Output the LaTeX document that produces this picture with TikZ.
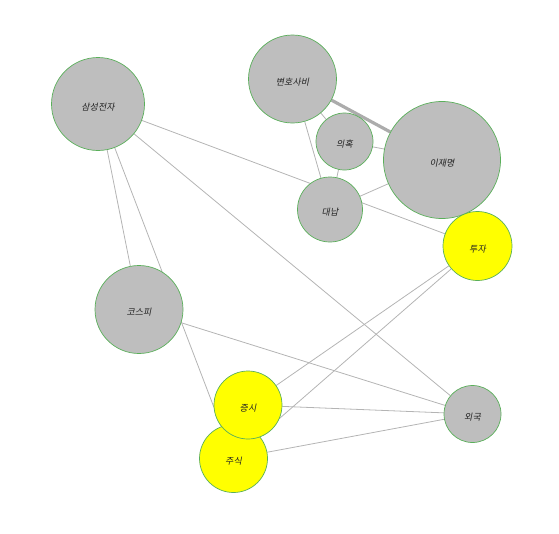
\documentclass[tikz,border=0pt]{standalone}
\usepackage{fontspec}
\newfontfamily\kr[FakeSlant=0.2]{Noto Sans CJK KR}
\usetikzlibrary{backgrounds}
\definecolor{nodegray}{RGB}{190,190,190}
\definecolor{nodeyellow}{RGB}{255,255,0}
\definecolor{nodeborder}{RGB}{90,175,90}
\definecolor{edgegray}{RGB}{180,180,180}
\definecolor{labelcol}{RGB}{35,35,35}
\newcommand{\lbl}[1]{\raisebox{-6.3pt}[0pt][0pt]{#1}}
\tikzset{
  vtx/.style={circle, draw=nodeborder, line width=0.7pt, fill=nodegray, inner sep=0pt,
    font=\kr\fontsize{9}{10}\selectfont, text=labelcol},
  hot/.style={vtx, fill=nodeyellow},
  edge/.style={draw=edgegray, line width=0.8pt},
  heavy/.style={draw=gray!65, line width=3.2pt}
}
\begin{document}
\begin{tikzpicture}[x=1pt,y=-1pt]
\useasboundingbox (0,0) rectangle (559,533);
\node[vtx, minimum size=93pt] (ss) at (98,104) {\lbl{삼성전자}};
\node[vtx, minimum size=88pt] (bh) at (292.5,79) {\lbl{변호사비}};
\node[vtx, minimum size=57pt] (ui) at (344.5,141.5) {\lbl{의혹}};
\node[vtx, minimum size=117pt] (lj) at (442,160) {\lbl{이재명}};
\node[vtx, minimum size=65pt] (dn) at (330,209.5) {\lbl{대납}};
\node[hot, minimum size=69pt] (tz) at (477.5,246) {\lbl{투자}};
\node[vtx, minimum size=88pt] (ks) at (139,309.5) {\lbl{코스피}};
\node[hot, minimum size=68pt] (jsk) at (233.5,458.5) {\lbl{주식}};
\node[hot, minimum size=68pt] (js) at (248,405) {\lbl{증시}};
\node[vtx, minimum size=57pt] (wg) at (472.5,414) {\lbl{외국}};
\begin{scope}[on background layer]
  \draw[edge] (ss) -- (tz);
  \draw[edge] (ss) -- (ks);
  \draw[edge] (ss) -- (jsk);
  \draw[edge] (ss) -- (wg);
  \draw[edge] (ks) -- (wg);
  \draw[edge] (js) -- (tz);
  \draw[edge] (jsk) -- (tz);
  \draw[edge] (js) -- (wg);
  \draw[edge] (jsk) -- (wg);
  \draw[heavy] (bh) -- (lj);
  \draw[edge] (bh) -- (ui);
  \draw[edge] (bh) -- (dn);
  \draw[edge] (ui) -- (lj);
  \draw[edge] (ui) -- (dn);
  \draw[edge] (dn) -- (lj);
\end{scope}
\end{tikzpicture}
\end{document}
